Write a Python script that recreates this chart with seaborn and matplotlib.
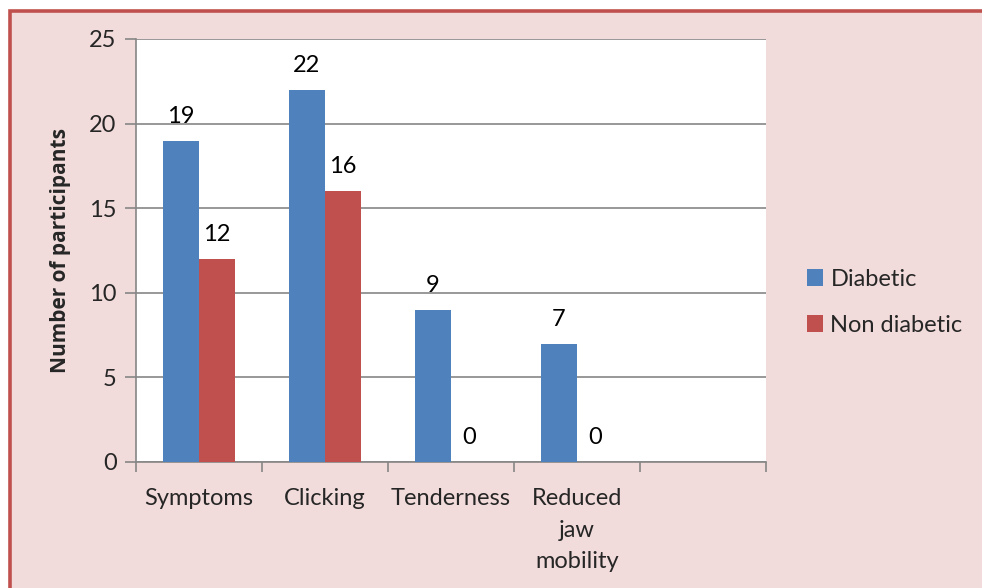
import matplotlib
matplotlib.use("Agg")
import matplotlib.pyplot as plt
from matplotlib.patches import Rectangle
import seaborn as sns
import pandas as pd

categories = ["Symptoms", "Clicking", "Tenderness", "Reduced\njaw\nmobility"]
slots = categories + [""]
diabetic = [19, 22, 9, 7]
non_diabetic = [12, 16, 0, 0]
series = ["Diabetic", "Non diabetic"]
colors = ["#4F81BD", "#C0504D"]

df = pd.DataFrame({
    "category": categories * 2,
    "group": [series[0]] * len(categories) + [series[1]] * len(categories),
    "value": diabetic + non_diabetic,
})

sns.set_theme(style="white")
plt.rcParams["font.family"] = ["Lato", "DejaVu Sans"]

FS = 17
bg = "#F2DCDB"
fig = plt.figure(figsize=(9.82, 5.88), dpi=100, facecolor="white")
# chart area frame
fig.patches.append(Rectangle((10 / 982, -0.05), 1.1, (588 - 10.5) / 588 + 0.05,
                             transform=fig.transFigure, facecolor=bg,
                             edgecolor="#C0504D", linewidth=2.6, zorder=-10))

ax = fig.add_axes([136 / 982, 1 - 462 / 588, 630 / 982, 423 / 588])
ax.set_facecolor("white")

sns.barplot(data=df, x="category", y="value", hue="group", order=slots,
            hue_order=series, palette=colors, width=0.572, saturation=1,
            linewidth=0, ax=ax, zorder=3, legend=True)

for container in ax.containers:
    ax.bar_label(container, fmt="%d", padding=10, fontsize=FS, color="black")

ax.set_ylim(0, 25)
ax.set_xlim(-0.5, len(slots) - 0.5)
ax.set_yticks(range(0, 26, 5))
ax.yaxis.grid(True, color="#868686", linewidth=1.2, zorder=0)
ax.tick_params(axis="y", which="major", left=True, length=8, width=1.2,
               color="#868686", labelsize=FS, pad=6)

# boundary ticks between categories, labels centred in each slot
ax.set_xticks([i - 0.5 for i in range(len(slots) + 1)])
ax.set_xticklabels([])
ax.tick_params(axis="x", which="major", bottom=True, direction="out",
               length=7, width=1.2, color="#868686")
ax.set_xticks(range(len(slots)), minor=True)
ax.set_xticklabels(slots, minor=True, fontsize=FS, linespacing=1.6)
ax.tick_params(axis="x", which="minor", length=0, pad=19)

for s in ["top", "right"]:
    ax.spines[s].set_visible(False)
for s in ["left", "bottom"]:
    ax.spines[s].set_color("#868686")
    ax.spines[s].set_linewidth(1.2)

ax.set_xlabel("")
ax.set_ylabel("Number of participants", fontsize=15, fontweight="bold",
              family=["Open Sans", "DejaVu Sans"], labelpad=13)

handles, labels = ax.get_legend_handles_labels()
ax.legend(handles, labels, loc="center left", bbox_to_anchor=(1.031, 0.378),
          frameon=False, fontsize=FS, handlelength=0.7, handleheight=0.7,
          handletextpad=0.3, labelspacing=1.05)

fig.savefig("out.png", dpi=100, facecolor=fig.get_facecolor())
